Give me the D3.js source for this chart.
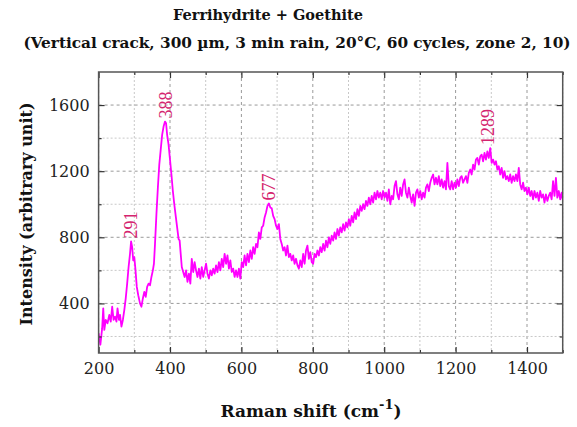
<!DOCTYPE html>
<html>
<head>
<meta charset="utf-8">
<script src="https://cdn.jsdelivr.net/npm/d3@7"></script>
<style>
  body { margin: 0; background: #fff; }
  svg { display: block; }
</style>
</head>
<body>
<div id="chart"></div>
<script>
// Raman spectrum (shift in cm-1, intensity in arbitrary unit)
var shift = [
  200,205,210,213,216,220,225,230,234,238,242,246,250,253,257,260,264,268,272,276,
  280,284,288,291,294,297,300,303,307,311,316,320,324,328,332,336,340,344,348,352,
  355,358,362,366,370,374,378,382,386,389,392,396,400,404,408,412,416,420,424,427,
  430,433,437,441,445,449,453,457,461,465,469,473,477,481,485,489,493,497,501,505,
  509,513,517,521,525,529,533,537,541,545,549,553,557,561,565,569,573,577,581,585,
  589,593,597,601,605,609,613,617,621,625,629,633,637,641,645,649,653,657,661,665,
  669,673,677,681,685,689,693,697,701,705,709,713,717,721,725,729,733,737,741,745,
  749,753,757,761,765,769,773,777,781,785,789,793,797,801,805,809,813,817,821,825,
  829,833,837,841,845,849,853,857,861,865,869,873,877,881,885,889,893,897,901,905,
  909,913,917,921,925,929,933,937,941,945,949,953,957,961,965,969,973,977,981,985,
  989,993,997,1001,1005,1009,1013,1017,1021,1025,1029,1033,1037,1041,1045,1049,1053,1057,1061,1065,
  1069,1073,1077,1081,1085,1089,1093,1097,1101,1105,1109,1113,1117,1121,1125,1129,1133,1137,1141,1145,
  1149,1153,1157,1161,1165,1169,1173,1177,1181,1185,1189,1193,1197,1201,1205,1209,1213,1217,1221,1225,
  1229,1233,1237,1241,1245,1249,1253,1257,1261,1265,1269,1273,1277,1281,1285,1289,1293,1297,1301,1305,
  1309,1313,1317,1321,1325,1329,1333,1337,1341,1345,1349,1353,1357,1361,1365,1369,1373,1377,1381,1385,
  1389,1393,1397,1401,1405,1409,1413,1417,1421,1425,1429,1433,1437,1441,1445,1449,1453,1457,1461,1465,
  1469,1473,1477,1481,1485,1489,1493,1497,1500
];
var intensity = [
  220,150,250,370,240,300,280,330,290,380,300,320,290,370,300,330,260,300,360,430,
  520,620,700,775,740,660,680,610,500,450,400,380,430,470,440,500,520,510,560,600,
  640,760,940,1100,1240,1330,1420,1470,1500,1490,1420,1360,1270,1180,1080,1000,930,860,790,780,
  700,620,590,560,600,530,580,520,670,590,650,600,560,610,550,620,560,600,640,580,
  550,600,570,610,580,630,590,650,600,670,620,700,640,690,610,660,590,610,560,600,
  560,610,550,650,620,690,630,700,650,720,670,740,700,760,740,830,790,860,870,920,
  950,990,1005,980,975,930,910,870,850,880,790,760,720,740,690,750,680,700,660,690,
  640,670,630,610,660,620,700,640,720,750,670,710,650,640,700,680,720,690,740,710,
  760,720,780,740,800,760,810,780,830,790,850,810,860,830,880,840,890,860,910,870,
  930,890,950,910,970,930,990,960,1000,970,1020,990,1040,1000,1050,1010,1070,1030,1080,1040,
  1070,1030,1080,1040,1070,1020,1090,1000,1050,1030,1110,1140,1060,1030,1100,1050,1120,1150,1070,1040,
  1100,1050,1010,1060,990,1070,1090,1040,1080,1030,1070,1040,1100,1120,1080,1130,1160,1180,1120,1160,
  1120,1170,1110,1150,1100,1140,1090,1250,1110,1090,1140,1090,1130,1100,1150,1110,1160,1170,1130,1150,
  1170,1130,1190,1210,1180,1240,1210,1270,1280,1240,1290,1300,1260,1310,1270,1320,1280,1340,1250,1270,
  1240,1260,1210,1230,1180,1220,1160,1200,1150,1170,1140,1180,1130,1170,1140,1180,1140,1220,1120,1090,
  1130,1080,1100,1060,1100,1050,1080,1030,1080,1040,1070,1020,1080,1040,1060,1010,1060,1020,1050,1070,
  1030,1140,1050,1160,1040,1080,1030,1070,1030
];

var peakLabels = [291, 388, 677, 1289];

var xMajor = [200, 400, 600, 800, 1000, 1200, 1400];
var xMinor = [300, 500, 700, 900, 1100, 1300, 1500];
var yMajor = [400, 800, 1200, 1600];
var yMinor = [200, 600, 1000, 1400];

var titleText = "Ferrihydrite + Goethite";
var subtitleText = "(Vertical crack, 300 µm, 3 min rain, 20°C, 60 cycles, zone 2, 10)";

var W = 577, H = 427;
var margin = {top: 72, right: 14.3, bottom: 74, left: 98.6};
var w = W - margin.left - margin.right;
var h = H - margin.top - margin.bottom;

var data = shift.map(function(d, i){ return {x: d, y: intensity[i]}; });

var x = d3.scaleLinear().domain([200, 1500]).range([0, w]);
var y = d3.scaleLinear().domain([100, 1800]).range([h, 0]);

var svg = d3.select("#chart").append("svg")
    .attr("width", W)
    .attr("height", H);

svg.append("rect").attr("width", W).attr("height", H).attr("fill", "#fff");

// titles
svg.append("text")
    .attr("x", 268).attr("y", 20)
    .attr("text-anchor", "middle")
    .style("font-family", "'DejaVu Serif', serif")
    .style("font-weight", "bold")
    .style("font-size", "14.5px")
    .attr("fill", "#111")
    .text(titleText);

svg.append("text")
    .attr("x", 297).attr("y", 48)
    .attr("text-anchor", "middle")
    .style("font-family", "'DejaVu Serif', serif")
    .style("font-weight", "bold")
    .style("font-size", "15.3px")
    .attr("fill", "#111")
    .text(subtitleText);

var g = svg.append("g")
    .attr("transform", "translate(" + margin.left + "," + margin.top + ")");

// grid
g.append("g").selectAll("line")
    .data(xMinor.concat(xMajor))
    .enter().append("line")
    .attr("x1", function(d){ return x(d); })
    .attr("x2", function(d){ return x(d); })
    .attr("y1", 0).attr("y2", h)
    .attr("stroke", function(d){ return xMajor.indexOf(d) >= 0 ? "#9a9a9a" : "#c8c8c8"; })
    .attr("stroke-width", 1)
    .attr("stroke-dasharray", function(d){ return xMajor.indexOf(d) >= 0 ? "3,3" : "2,2"; });

g.append("g").selectAll("line")
    .data(yMinor.concat(yMajor))
    .enter().append("line")
    .attr("x1", 0).attr("x2", w)
    .attr("y1", function(d){ return y(d); })
    .attr("y2", function(d){ return y(d); })
    .attr("stroke", function(d){ return yMajor.indexOf(d) >= 0 ? "#9a9a9a" : "#c8c8c8"; })
    .attr("stroke-width", 1)
    .attr("stroke-dasharray", function(d){ return yMajor.indexOf(d) >= 0 ? "3,3" : "2,2"; });

// spectrum
g.append("clipPath").attr("id", "clip")
    .append("rect").attr("width", w).attr("height", h);

var line = d3.line()
    .x(function(d){ return x(d.x); })
    .y(function(d){ return y(d.y); });

g.append("path")
    .datum(data)
    .attr("clip-path", "url(#clip)")
    .attr("fill", "none")
    .attr("stroke", "#ff00ff")
    .attr("stroke-width", 1.8)
    .attr("stroke-linejoin", "round")
    .attr("d", line);

// peak labels, placed above the local max
g.append("g").selectAll("text")
    .data(peakLabels)
    .enter().append("text")
    .attr("transform", function(p){
        var near = data.filter(function(d){ return Math.abs(d.x - p) <= 12; });
        var top = d3.max(near, function(d){ return d.y; });
        return "translate(" + x(p) + "," + (y(top) - 3) + ") rotate(-90)";
    })
    .attr("dy", "0.35em")
    .style("font-family", "'Liberation Serif', serif")
    .style("font-size", "18px")
    .attr("fill", "#d4246e")
    .text(function(d){ return d; });

// axes, ticks pointing inward
var fontTick = "'DejaVu Serif', serif";

function styleAxis(sel) {
    sel.select(".domain").remove();
    sel.selectAll("line").attr("stroke", "#333").attr("stroke-width", 1.2);
    sel.selectAll("text")
        .style("font-family", fontTick)
        .style("font-size", "16px")
        .attr("fill", "#222");
}

g.append("g").attr("transform", "translate(0," + h + ")")
    .call(d3.axisBottom(x).tickValues(xMajor).tickSize(-6).tickPadding(10).tickFormat(d3.format("d")))
    .call(styleAxis);
g.append("g").attr("transform", "translate(0," + h + ")")
    .call(d3.axisBottom(x).tickValues(xMinor).tickSize(-3).tickFormat(""))
    .call(styleAxis);
g.append("g")
    .call(d3.axisTop(x).tickValues(xMajor).tickSize(-6).tickFormat(""))
    .call(styleAxis);
g.append("g")
    .call(d3.axisTop(x).tickValues(xMinor).tickSize(-3).tickFormat(""))
    .call(styleAxis);

g.append("g")
    .call(d3.axisLeft(y).tickValues(yMajor).tickSize(-6).tickPadding(9).tickFormat(d3.format("d")))
    .call(styleAxis);
g.append("g")
    .call(d3.axisLeft(y).tickValues(yMinor).tickSize(-3).tickFormat(""))
    .call(styleAxis);
g.append("g").attr("transform", "translate(" + w + ",0)")
    .call(d3.axisRight(y).tickValues(yMajor).tickSize(-6).tickFormat(""))
    .call(styleAxis);
g.append("g").attr("transform", "translate(" + w + ",0)")
    .call(d3.axisRight(y).tickValues(yMinor).tickSize(-3).tickFormat(""))
    .call(styleAxis);

// frame
g.append("rect")
    .attr("width", w).attr("height", h)
    .attr("fill", "none")
    .attr("stroke", "#555")
    .attr("stroke-width", 1.5);

// axis titles
var xt = svg.append("text")
    .attr("x", 311).attr("y", 417)
    .attr("text-anchor", "middle")
    .style("font-family", "'DejaVu Serif', serif")
    .style("font-weight", "bold")
    .style("font-size", "17px")
    .attr("fill", "#111");
xt.append("tspan").text("Raman shift (cm");
xt.append("tspan").attr("dy", "-8").style("font-size", "13px").text("-1");
xt.append("tspan").attr("dy", "8").text(")");

svg.append("text")
    .attr("transform", "translate(32,214) rotate(-90)")
    .attr("text-anchor", "middle")
    .style("font-family", "'DejaVu Serif', serif")
    .style("font-weight", "bold")
    .style("font-size", "16px")
    .attr("fill", "#111")
    .text("Intensity (arbitrary unit)");
</script>
</body>
</html>
